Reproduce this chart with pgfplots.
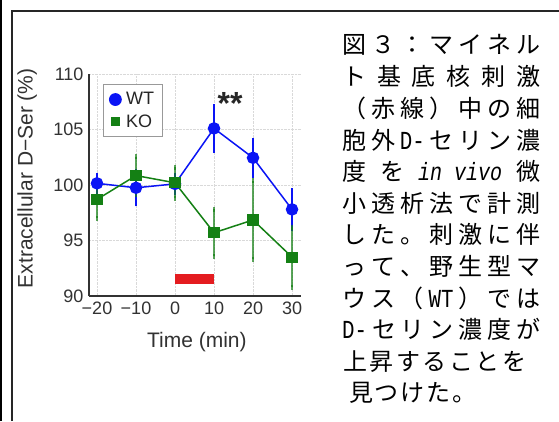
\documentclass[border=0pt]{standalone}
\usepackage{pgfplots}
\pgfplotsset{compat=1.18}
\usepackage{fontspec}
\setmainfont{Liberation Sans}
\newfontfamily\cjk{Noto Sans CJK JP}
\newfontfamily\lat[FakeStretch=0.8]{Liberation Mono}
\definecolor{wtblue}{RGB}{10,20,245}
\definecolor{kogreen}{RGB}{20,128,20}
\definecolor{barred}{RGB}{228,28,32}
\definecolor{axgray}{RGB}{50,50,50}
\newcommand{\jf}{\cjk\fontsize{24}{24}\selectfont}
\newcommand{\lf}{\lat\fontsize{26}{26}\selectfont}
\begin{document}
\begin{tikzpicture}
\useasboundingbox (0pt,0pt) rectangle (559pt,421pt);
\fill[white] (0pt,0pt) rectangle (559pt,421pt);
% frame
\draw[black, line width=2pt] (1pt,0pt) -- (1pt,421pt);
\draw[black!85, line width=2pt] (12pt,0pt) -- (12pt,410pt) -- (559pt,410pt);

\begin{axis}[
  at={(89pt,125pt)}, anchor=south west,
  scale only axis, width=212pt, height=222pt,
  xmin=-22.05, xmax=32.3, ymin=90, ymax=110,
  axis lines=left, axis line style={-, axgray, line width=2.4pt},
  xtick={-20,-10,0,10,20,30}, xticklabels={−20,−10,0,10,20,30},
  ytick={90,95,100,105,110}, yticklabels={90,95,100,105,110},
  major tick length=0pt,
  tick label style={font=\fontsize{18}{18}\selectfont, text=axgray},
  xticklabel style={yshift=-2pt},
  yticklabel style={xshift=-2pt},
  grid=major, grid style={densely dotted, black!15, line width=0.8pt},
  xlabel={Time (min)}, ylabel={Extracellular D−Ser (\%)},
  label style={font=\fontsize{21}{21}\selectfont, text=axgray},
  xlabel style={at={(axis description cs:0.509,-0.207)}, anchor=center},
  ylabel style={at={(axis description cs:-0.292,0.53)}, anchor=center},
  clip=false,
  legend style={at={(axis description cs:0.066,0.955)}, anchor=north west,
    draw=black!40, line width=1.2pt, font=\fontsize{18}{18}\selectfont,
    nodes={font=\fontsize{18}{18}\selectfont, text=black!85},
    row sep=4pt, column sep=3pt, inner xsep=6pt, inner ysep=6pt},
  legend cell align=left,
]
\addplot[barred, line width=10.3pt, forget plot] coordinates {(0,91.52) (10,91.52)};

\addplot[forget plot, wtblue, line width=1.5pt, mark=*, mark size=5.5pt,
  mark options={fill=wtblue, draw=wtblue},
  error bars/.cd, y dir=both, y explicit,
  error bar style={wtblue, line width=1.3pt},
  error mark options={wtblue, mark size=2.5pt, line width=1.3pt}]
  coordinates {
  (-20,100.15) +- (0,0.75)
  (-10,99.75) +- (0,1.45)
  (0,100.1) +- (0,0.8)
  (10,105.1) +- (0,1.95)
  (20,102.45) +- (0,1.6)
  (30,97.8) +- (0,1.7)
  };

\addplot[forget plot, kogreen, line width=1.5pt, mark=square*, mark size=4.8pt,
  mark options={fill=kogreen, draw=kogreen},
  error bars/.cd, y dir=both, y explicit,
  error bar style={kogreen, line width=1.3pt, opacity=0.7},
  error mark options={kogreen, mark size=2.5pt, line width=1.3pt, opacity=0.7}]
  coordinates {
  (-20,98.7) +- (0,1.7)
  (-10,100.85) +- (0,1.7)
  (0,100.2) +- (0,1.4)
  (10,95.7) +- (0,2.1)
  (20,96.85) +- (0,3.55)
  (30,93.5) +- (0,2.7)
  };

\addlegendimage{only marks, mark=*, mark size=5.8pt, wtblue, mark options={fill=wtblue}}
\addlegendentry{WT}
\addlegendimage{only marks, mark=square*, mark size=4pt, kogreen, mark options={fill=kogreen}}
\addlegendentry{KO}

\node[font=\fontsize{32}{32}\selectfont\bfseries, text=black!85] at (axis cs:14.1,107.3) {**};
\end{axis}

% Japanese caption
\node[anchor=west, inner sep=0pt, font=\jf] at (342pt,376pt) {\makebox[198pt][s]{図\hfill ３\hfill ：\hfill マ\hfill イ\hfill ネ\hfill ル}};
\node[anchor=west, inner sep=0pt, font=\jf] at (342pt,344.4pt) {\makebox[198pt][s]{ト\hfill 基\hfill 底\hfill 核\hfill 刺\hfill 激}};
\node[anchor=west, inner sep=0pt, font=\jf] at (342pt,312.7pt) {\makebox[198pt][s]{（\hfill 赤\hfill 線\hfill ）\hfill 中\hfill の\hfill 細}};
\node[anchor=west, inner sep=0pt, font=\jf] at (342pt,281.1pt) {\makebox[198pt][s]{胞\hfill 外\hfill {\lf D-}\hfill セ\hfill リ\hfill ン\hfill 濃}};
\node[anchor=west, inner sep=0pt, font=\jf] at (342pt,249.5pt) {\makebox[198pt][s]{度\hfill を\hfill {\lat\fontsize{25}{25}\selectfont\itshape in vivo}\hfill 微}};
\node[anchor=west, inner sep=0pt, font=\jf] at (342pt,217.8pt) {\makebox[198pt][s]{小\hfill 透\hfill 析\hfill 法\hfill で\hfill 計\hfill 測}};
\node[anchor=west, inner sep=0pt, font=\jf] at (342pt,186.2pt) {\makebox[198pt][s]{し\hfill た\hfill 。\hfill 刺\hfill 激\hfill に\hfill 伴}};
\node[anchor=west, inner sep=0pt, font=\jf] at (342pt,154.6pt) {\makebox[198pt][s]{っ\hfill て\hfill 、\hfill 野\hfill 生\hfill 型\hfill マ}};
\node[anchor=west, inner sep=0pt, font=\jf] at (342pt,123pt) {\makebox[198pt][s]{ウ\hfill ス\hfill （\hfill {\lf WT}\hfill ）\hfill で\hfill は}};
\node[anchor=west, inner sep=0pt, font=\jf] at (342pt,91.3pt) {\makebox[198pt][s]{{\lf D-}\hfill セ\hfill リ\hfill ン\hfill 濃\hfill 度\hfill が}};
\node[anchor=west, inner sep=0pt, font=\jf] at (343pt,59.7pt) {\makebox[183pt][s]{上\hfill 昇\hfill す\hfill る\hfill こ\hfill と\hfill を}};
\node[anchor=west, inner sep=0pt, font=\jf] at (349pt,28pt) {\makebox[127pt][s]{見\hfill つ\hfill け\hfill た\hfill 。}};
\end{tikzpicture}
\end{document}
